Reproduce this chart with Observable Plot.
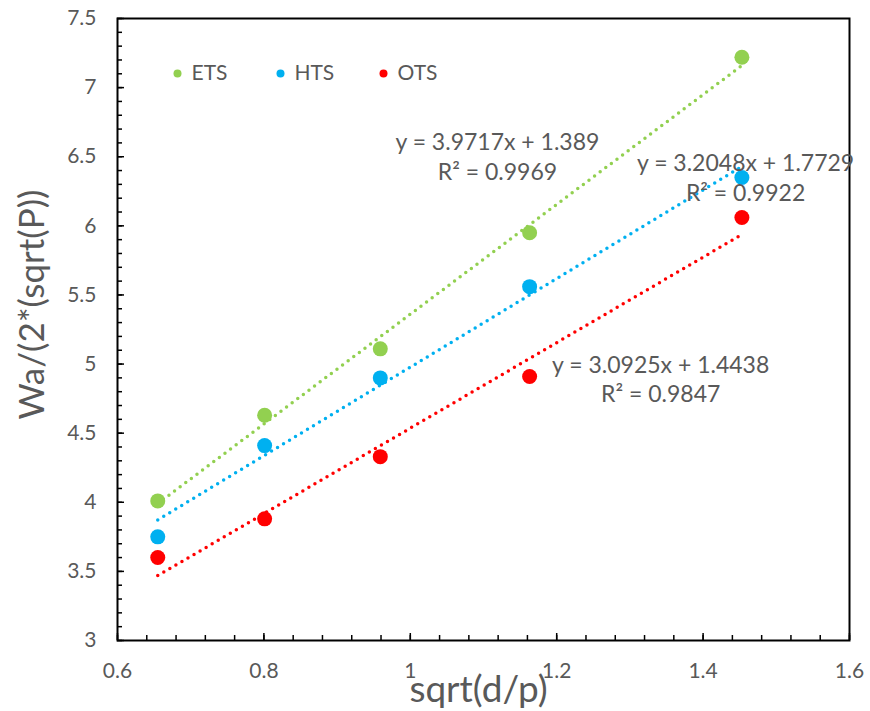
<!DOCTYPE html>
<html>
<head>
<meta charset="utf-8">
<script src="https://cdn.jsdelivr.net/npm/d3@7"></script>
<script src="https://cdn.jsdelivr.net/npm/@observablehq/plot@0.6"></script>
<style>
  body { margin: 0; background: #fff; }
  #chart svg { display: block; }
</style>
</head>
<body>
<div id="chart"></div>
<script>
const seriesNames = ["ETS", "HTS", "OTS"];
const seriesColors = ["#92D050", "#00B0F0", "#FF0000"];
const xValues = [0.655, 0.801, 0.959, 1.163, 1.453];
const etsValues = [4.01, 4.63, 5.11, 5.95, 7.22];
const htsValues = [3.75, 4.41, 4.90, 5.56, 6.35];
const otsValues = [3.60, 3.88, 4.33, 4.91, 6.06];
const slopes = [3.9717, 3.2048, 3.0925];
const intercepts = [1.389, 1.7729, 1.4438];
const equationLabels = ["y = 3.9717x + 1.389\nR² = 0.9969", "y = 3.2048x + 1.7729\nR² = 0.9922", "y = 3.0925x + 1.4438\nR² = 0.9847"];
const labelX = [1.119, 1.458, 1.342];
const labelY = [6.51, 6.36, 4.90];
const xTicks = [0.6, 0.8, 1.0, 1.2, 1.4, 1.6];
const yTicks = [3, 3.5, 4, 4.5, 5, 5.5, 6, 6.5, 7, 7.5];

const allY = [etsValues, htsValues, otsValues];
const points = [];
allY.forEach((vals, i) => vals.forEach((v, j) => points.push({series: seriesNames[i], x: xValues[j], y: v})));
const trend = [];
seriesNames.forEach((s, i) => {
  const x0 = d3.min(xValues), x1 = d3.max(xValues);
  trend.push({series: s, x: x0, y: slopes[i] * x0 + intercepts[i]});
  trend.push({series: s, x: x1, y: slopes[i] * x1 + intercepts[i]});
});
const labels = seriesNames.map((s, i) => ({series: s, x: labelX[i], y: labelY[i], text: equationLabels[i]}));

const minorX = d3.range(0, 26).map(i => +(0.6 + i * 0.04).toFixed(2));
const minorY = d3.range(0, 46).map(i => +(3 + i * 0.1).toFixed(1));

const gray = "#595959";
const font = "Lato, 'Open Sans', sans-serif";

const legendMarks = [];
seriesNames.forEach((s, i) => {
  legendMarks.push(Plot.dot([s], {frameAnchor: "top-left", dx: 60 + i * 103, dy: 55, r: 4, fill: seriesColors[i], stroke: null}));
  legendMarks.push(Plot.text([s], {frameAnchor: "top-left", dx: 74 + i * 103, dy: 55, text: d => d, textAnchor: "start", lineAnchor: "middle", fill: gray, fontSize: 21}));
});

const chart = Plot.plot({
  width: 870,
  height: 711,
  marginLeft: 117,
  marginRight: 21,
  marginTop: 18,
  marginBottom: 71,
  style: {fontFamily: font, background: "#fff"},
  x: {domain: [0.6, 1.6]},
  y: {domain: [3, 7.5]},
  color: {domain: seriesNames, range: seriesColors},
  marks: [
    Plot.axisX({ticks: minorX, tickSize: -5, text: null, label: null, strokeWidth: 1.5}),
    Plot.axisX({ticks: xTicks, tickSize: -7, text: null, label: null, stroke: "black", strokeWidth: 1.5}),
    Plot.axisY({ticks: minorY, tickSize: -5, text: null, label: null, strokeWidth: 1.5}),
    Plot.axisY({ticks: yTicks, tickSize: -7, text: null, label: null, stroke: "black", strokeWidth: 1.5}),
    Plot.text(xTicks, {x: d => d, frameAnchor: "bottom", dy: 31, lineAnchor: "middle", textAnchor: "middle", text: d => String(+d.toFixed(1)), fill: gray, fontSize: 21}),
    Plot.text(yTicks, {y: d => d, frameAnchor: "left", dx: -21, lineAnchor: "middle", textAnchor: "end", text: d => String(d), fill: gray, fontSize: 21}),
    Plot.frame({stroke: "black", strokeWidth: 2}),
    Plot.line(trend, {x: "x", y: "y", z: "series", stroke: "series", strokeWidth: 3.5, strokeDasharray: "0 7", strokeLinecap: "round"}),
    Plot.dot(points, {x: "x", y: "y", fill: "series", r: 7.5, stroke: null}),
    Plot.text(labels, {x: "x", y: "y", text: "text", fill: gray, fontSize: 23, lineHeight: 1.3}),
    ...legendMarks,
    Plot.text(["sqrt(d/p)"], {frameAnchor: "bottom", dx: -5, dy: 50, lineAnchor: "middle", textAnchor: "middle", text: d => d, fill: gray, fontSize: 37}),
    Plot.text(["Wa/(2*(sqrt(P))"], {frameAnchor: "left", dx: -85, dy: -25, rotate: -90, textAnchor: "middle", lineAnchor: "middle", text: d => d, fill: gray, fontSize: 35})
  ]
});
document.getElementById("chart").append(chart);
</script>
</body>
</html>
